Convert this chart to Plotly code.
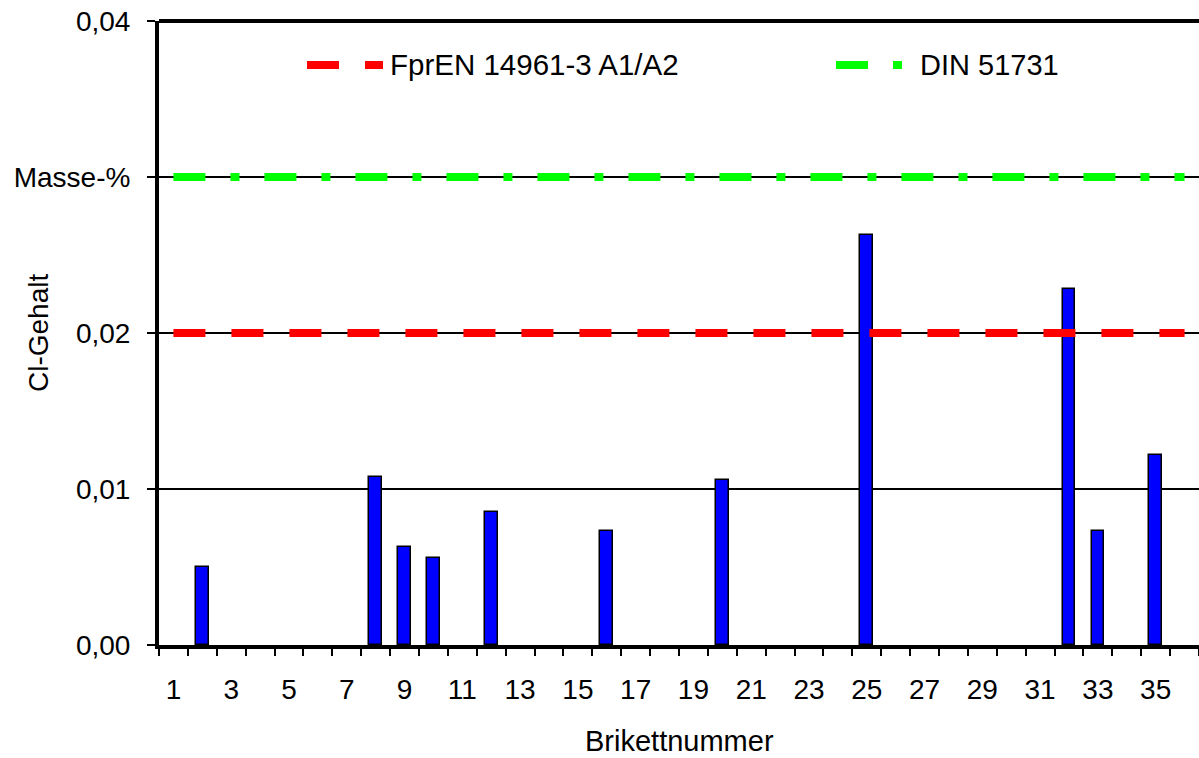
import plotly.graph_objects as go

# ---- data ----
brikett = list(range(1, 37))
cl_gehalt = [0, 0.0050, 0, 0, 0, 0, 0, 0.0108, 0.0063, 0.0056,
             0, 0.0085, 0, 0, 0, 0.0073, 0, 0, 0, 0.0106,
             0, 0, 0, 0, 0.0263, 0, 0, 0, 0, 0,
             0, 0.0228, 0.0073, 0, 0.0122, 0]
limit_fpren = 0.02
limit_din = 0.03
limit_x = [1, 36]
name_fpren = "FprEN 14961-3 A1/A2"
name_din = "DIN 51731"
y_tickvals = [0, 0.01, 0.02, 0.03, 0.04]
y_ticktext = ["0,00", "0,01", "0,02", "Masse-%", "0,04"]
x_tickvals = list(range(1, 37, 2))
x_ticktext = [str(v) for v in x_tickvals]

FONT = "Liberation Sans, Arial, Helvetica, sans-serif"
RED_DASH = "32px,26px"
GREEN_DASH = "32px,25px,9px,25px"

W, H = 1199, 758
L, R, T, B = 159, 0, 21, 113
PW, PH = W - L - R, H - T - B


def px_x(px):
    return (px - L) / PW


def px_y(py):
    return (H - B - py) / PH


# outline only on bars that have a height (zero bars stay invisible)
bar_outline = [1.5 if v > 0 else 0 for v in cl_gehalt]

fig = go.Figure()
fig.add_trace(go.Bar(
    x=brikett, y=cl_gehalt, width=0.44,
    marker=dict(color="#0000FF", line=dict(color="black", width=bar_outline)),
    showlegend=False, name="Cl-Gehalt"))
fig.add_trace(go.Scatter(
    x=limit_x, y=[limit_fpren, limit_fpren], mode="lines", name=name_fpren,
    line=dict(color="#FF0000", width=8, dash=RED_DASH), showlegend=False))
fig.add_trace(go.Scatter(
    x=limit_x, y=[limit_din, limit_din], mode="lines", name=name_din,
    line=dict(color="#00FF00", width=8, dash=GREEN_DASH), showlegend=False))

shapes = [
    # top frame line
    dict(type="line", xref="paper", yref="paper", x0=0, x1=1, y0=1, y1=1,
         line=dict(color="black", width=4)),
    # custom legend samples
    dict(type="line", xref="paper", yref="paper", x0=px_x(307), x1=px_x(383),
         y0=px_y(65), y1=px_y(65), line=dict(color="#FF0000", width=8, dash=RED_DASH)),
    dict(type="line", xref="paper", yref="paper", x0=px_x(836), x1=px_x(902),
         y0=px_y(65), y1=px_y(65), line=dict(color="#00FF00", width=8, dash=GREEN_DASH)),
]

annotations = [
    dict(text=name_fpren, xref="paper", yref="paper", x=px_x(388), y=px_y(65),
         xanchor="left", yanchor="middle", showarrow=False,
         font=dict(size=29.5, color="black", family=FONT)),
    dict(text=name_din, xref="paper", yref="paper", x=px_x(918), y=px_y(65),
         xanchor="left", yanchor="middle", showarrow=False,
         font=dict(size=29, color="black", family=FONT)),
    dict(text="Cl-Gehalt", xref="paper", yref="paper", x=px_x(38), y=px_y(333),
         xanchor="center", yanchor="middle", textangle=-90, showarrow=False,
         font=dict(size=28, color="black", family=FONT)),
    dict(text="Brikettnummer", xref="paper", yref="paper", x=0.5, y=px_y(741),
         xanchor="center", yanchor="middle", showarrow=False,
         font=dict(size=29, color="black", family=FONT)),
]

fig.update_layout(
    width=W, height=H, autosize=False,
    margin=dict(l=L, r=R, t=T, b=B, pad=0),
    paper_bgcolor="white", plot_bgcolor="white",
    font=dict(family=FONT, size=28, color="black"),
    bargap=0, showlegend=False,
    shapes=shapes, annotations=annotations,
    xaxis=dict(
        range=[0.5, 36.5], tickmode="array", tickvals=x_tickvals, ticktext=x_ticktext,
        ticks="", showgrid=False, zeroline=False,
        showline=True, linecolor="black", linewidth=4,
        ticklabelstandoff=16,
        tickfont=dict(size=28, family=FONT, color="black"),
        minor=dict(tick0=0.5, dtick=1, ticks="outside", ticklen=7, tickwidth=2,
                   tickcolor="black", showgrid=False),
    ),
    yaxis=dict(
        range=[0, 0.04], tickmode="array", tickvals=y_tickvals, ticktext=y_ticktext,
        ticks="outside", ticklen=8, tickwidth=2, tickcolor="black",
        showgrid=True, gridcolor="black", gridwidth=1.5, zeroline=False,
        showline=True, linecolor="black", linewidth=4,
        ticklabelstandoff=11,
        tickfont=dict(size=28, family=FONT, color="black"),
    ),
)

fig.write_html(
    "out.html",
    config={"displayModeBar": False},
    post_script="document.body.style.margin='0';document.body.style.overflow='hidden';",
)
